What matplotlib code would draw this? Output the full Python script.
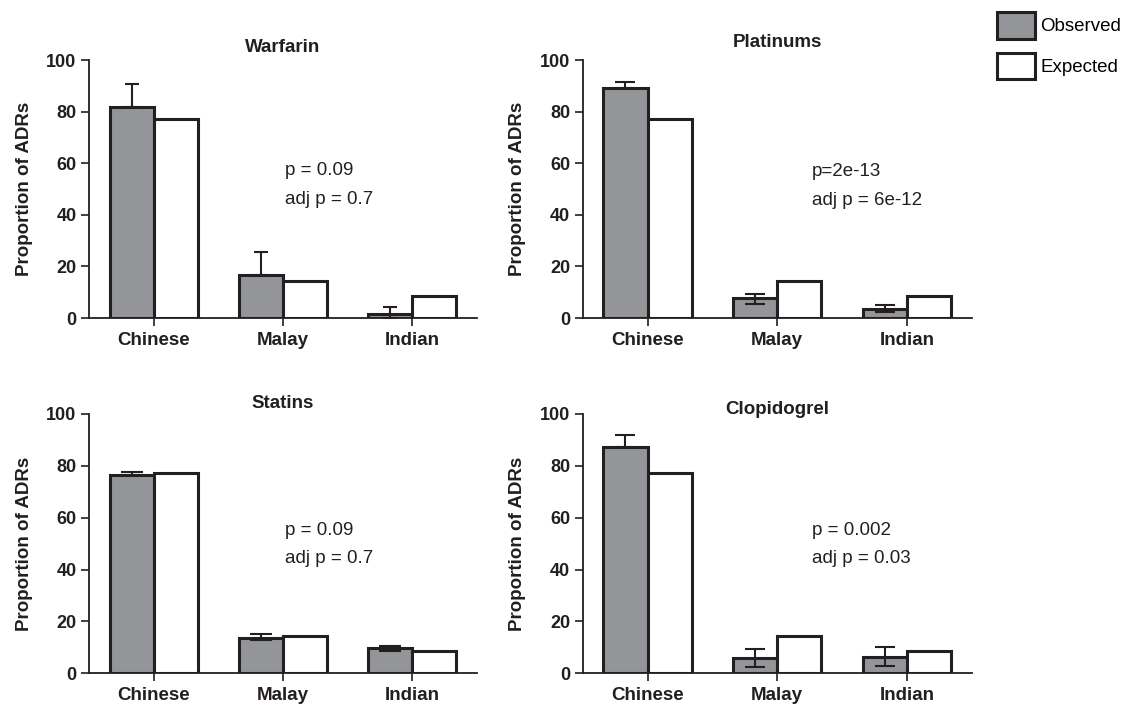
import matplotlib
matplotlib.use("Agg")
import matplotlib.pyplot as plt
import numpy as np
from matplotlib.patches import Patch

plt.rcParams['font.family'] = ['Liberation Sans', 'DejaVu Sans']

# data
categories = ["Chinese", "Malay", "Indian"]
expected = [77.3, 14.2, 8.6]

warfarin_obs = [81.8, 16.8, 1.4]
warfarin_hi = [9.0, 8.8, 2.9]
warfarin_lo = [0.0, 0.0, 1.4]

platinums_obs = [89.3, 7.6, 3.5]
platinums_hi = [2.3, 1.7, 1.4]
platinums_lo = [0.0, 2.1, 1.3]

statins_obs = [76.5, 13.7, 9.6]
statins_hi = [1.0, 1.3, 0.8]
statins_lo = [0.0, 0.9, 1.0]

clopidogrel_obs = [87.3, 5.8, 6.4]
clopidogrel_hi = [4.7, 3.5, 3.6]
clopidogrel_lo = [0.0, 3.4, 3.6]

p_texts = {
    "Warfarin": ("p = 0.09", "adj p = 0.7"),
    "Platinums": ("p=2e-13", "adj p = 6e-12"),
    "Statins": ("p = 0.09", "adj p = 0.7"),
    "Clopidogrel": ("p = 0.002", "adj p = 0.03"),
}

GREY = "#939598"
INK = "#231f20"

# layout: axes rect, title y, text x / y positions (data units), cap size
panels = [
    ("Warfarin", warfarin_obs, warfarin_lo, warfarin_hi,
     [0.0790, 0.5508, 0.3446, 0.3644], 104.7, 1.015, (57.1, 46.1), 5),
    ("Platinums", platinums_obs, platinums_lo, platinums_hi,
     [0.5175, 0.5508, 0.3455, 0.3644], 106.7, 1.27, (56.7, 45.7), 7.5),
    ("Statins", statins_obs, statins_lo, statins_hi,
     [0.0790, 0.0490, 0.3446, 0.3665], 104.1, 1.015, (55.0, 44.4), 8),
    ("Clopidogrel", clopidogrel_obs, clopidogrel_lo, clopidogrel_hi,
     [0.5175, 0.0490, 0.3455, 0.3665], 101.7, 1.27, (55.1, 44.4), 7.5),
]

fig = plt.figure(figsize=(11.26, 7.08), dpi=100)

x = np.arange(len(categories))
w = 0.34

for name, obs, lo, hi, rect, title_y, tx, ty, cap in panels:
    ax = fig.add_axes(rect)
    ax.bar(x - w / 2, obs, width=w, color=GREY, edgecolor=INK, linewidth=2.2, zorder=2)
    ax.bar(x + w / 2, expected, width=w, color="white", edgecolor=INK, linewidth=2.2, zorder=2)
    ax.errorbar(x - w / 2, obs, yerr=[lo, hi], fmt="none", ecolor=INK,
                elinewidth=1.5, capsize=cap, capthick=1.5, zorder=3)

    ax.set_xlim(-0.5, 2.5)
    ax.set_ylim(0, 100)
    ax.set_yticks([0, 20, 40, 60, 80, 100])
    ax.set_xticks(x)
    ax.set_xticklabels(categories, fontsize=13.5, fontweight="bold")
    for lab in ax.get_yticklabels():
        lab.set_fontsize(13)
        lab.set_fontweight("bold")
    ax.tick_params(axis="y", direction="out", length=6, width=1.2, pad=3, colors=INK)
    ax.tick_params(axis="x", direction="out", length=6, width=1.2, pad=4, colors=INK)

    for side in ["top", "right"]:
        ax.spines[side].set_visible(False)
    for side in ["left", "bottom"]:
        ax.spines[side].set_linewidth(1.3)
        ax.spines[side].set_color(INK)

    ax.set_ylabel("Proportion of ADRs", fontsize=13.5, fontweight="bold", color=INK)
    ax.yaxis.set_label_coords(-0.145, 0.5)

    ax.text(1, title_y, name, ha="center", va="center", fontsize=13.5,
            fontweight="bold", color=INK, clip_on=False)
    ax.text(tx, ty[0], p_texts[name][0], ha="left", va="center", fontsize=13.5, color=INK)
    ax.text(tx, ty[1], p_texts[name][1], ha="left", va="center", fontsize=13.5, color=INK)

handles = [Patch(facecolor=GREY, edgecolor=INK, linewidth=2.2, label="Observed"),
           Patch(facecolor="white", edgecolor=INK, linewidth=2.2, label="Expected")]
fig.legend(handles=handles, loc="upper left", bbox_to_anchor=(997 / 1126, 1 - 12 / 708),
           frameon=False, fontsize=13.5, handlelength=2.0, handleheight=1.8,
           handletextpad=0.3, labelspacing=0.75, borderpad=0, borderaxespad=0)

fig.savefig("out.png", dpi=100)
